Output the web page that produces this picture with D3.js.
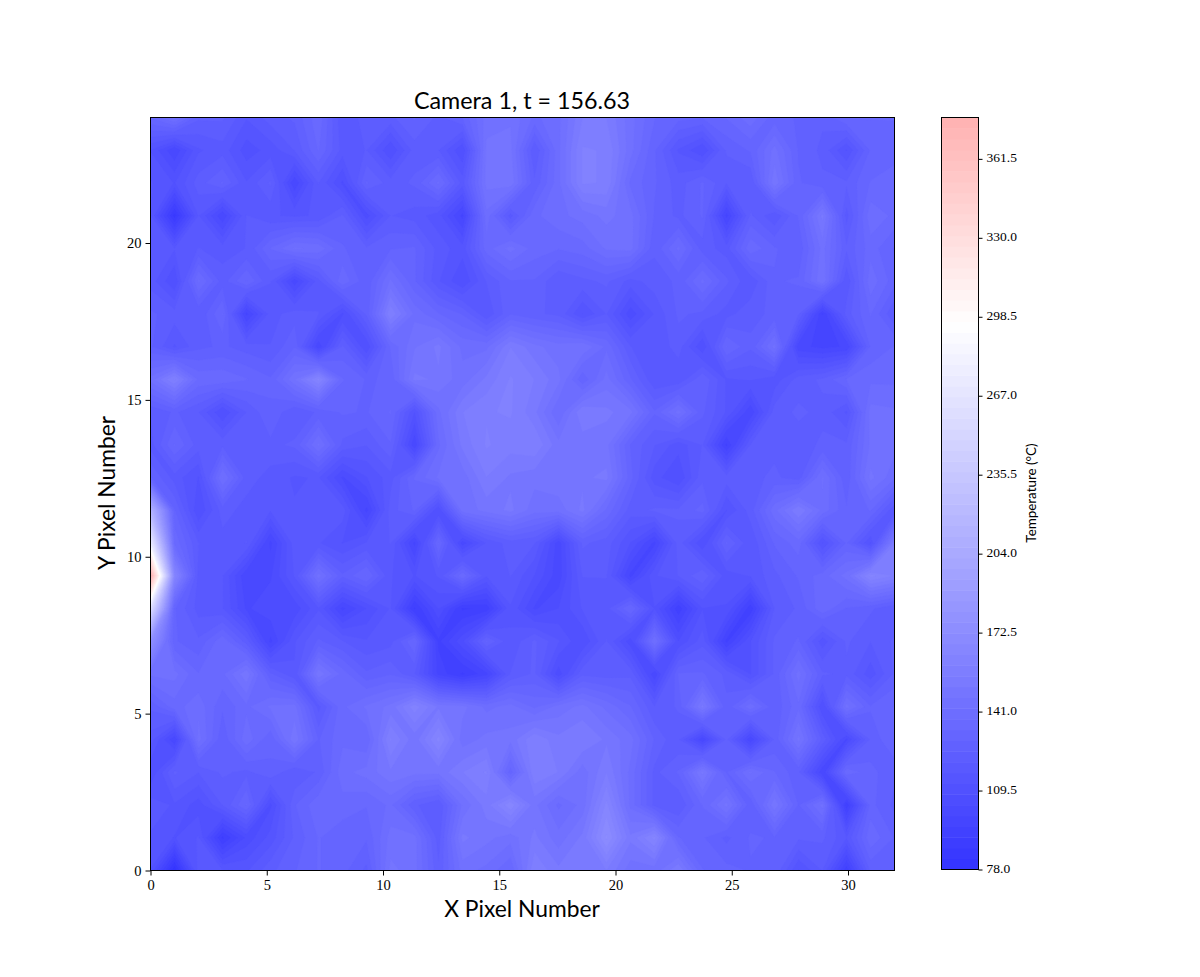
<!DOCTYPE html>
<html><head><meta charset="utf-8">
<script src="https://cdn.jsdelivr.net/npm/d3@7"></script>
<style>
html,body{margin:0;padding:0;background:#fff;}
svg{display:block;}
.tick text{font-family:"Liberation Serif",serif;fill:#000;}
</style></head><body>
<svg id="chart" width="1200" height="977"></svg>
<script>
// Temperature grid: rows run from Y = 0 upward, 32 columns per row.
const temperature = [
[112,78,119,117,116,124,129,134,131,124,148,144,126,144,141,134,159,152,155,155,144,144,155,134,131,129,129,112,121,92,126,126],
[116,112,117,90,105,114,126,134,131,130,144,144,123,152,148,144,152,144,152,173,152,165,134,130,124,130,129,126,126,117,137,129],
[119,116,110,121,134,107,129,137,136,134,139,126,121,143,153,167,148,137,144,165,141,124,121,134,148,126,150,129,144,92,131,124],
[108,126,121,126,124,129,121,126,141,144,150,148,148,155,160,131,159,155,144,155,141,124,130,152,129,143,134,126,100,137,131,126],
[119,100,144,126,141,130,150,129,137,134,160,148,165,144,148,148,159,152,155,150,144,129,121,100,126,100,126,148,124,103,126,134],
[126,136,141,130,137,143,144,119,137,143,148,162,150,148,141,144,137,144,148,141,134,121,126,152,126,141,126,137,108,144,130,134],
[143,144,134,137,150,126,117,150,136,126,129,121,98,90,98,121,126,105,124,123,124,100,130,130,124,112,126,144,126,124,114,126],
[175,130,126,137,123,98,116,126,121,117,119,134,94,107,130,117,126,117,108,121,105,143,108,119,94,112,126,130,114,126,121,126],
[260,130,119,117,103,107,105,116,98,108,117,90,108,90,92,116,103,108,117,119,134,112,92,112,112,92,121,126,137,129,126,121],
[378,165,119,117,100,103,117,144,126,134,117,112,117,137,117,121,112,101,121,121,98,116,121,129,114,117,124,130,136,144,165,159],
[275,137,121,119,121,98,119,117,112,117,121,98,134,101,117,123,121,101,126,123,112,98,123,108,130,117,130,136,112,130,112,155],
[215,130,108,123,119,117,117,119,119,98,123,130,108,144,148,152,144,144,152,137,123,126,126,131,112,123,141,155,141,130,134,117],
[130,119,112,143,123,119,116,117,103,112,119,134,143,144,155,150,148,150,150,152,131,114,108,124,123,124,126,123,143,126,148,139],
[119,134,123,124,121,124,126,143,124,121,129,100,137,152,160,157,159,148,148,148,129,121,114,121,94,121,124,123,126,126,143,144],
[121,126,121,108,121,129,121,126,130,129,134,112,141,155,159,160,152,138,155,152,148,130,144,126,116,100,123,126,124,116,144,143],
[144,160,137,137,134,130,146,165,134,129,130,152,150,144,152,160,155,148,130,144,130,117,117,129,116,117,114,123,126,134,137,137],
[126,116,124,126,123,121,129,100,126,108,134,146,152,141,141,155,148,144,146,137,121,117,123,108,134,126,144,101,98,100,130,134],
[126,123,121,134,98,119,123,121,107,126,159,141,134,129,117,129,126,124,112,121,105,117,126,124,119,124,126,126,95,123,134,121],
[119,108,139,123,134,121,101,119,137,126,143,130,117,108,121,129,129,121,124,126,119,123,126,139,126,117,129,130,146,117,141,131],
[119,117,121,119,121,134,143,141,130,126,129,130,119,114,136,144,136,134,136,143,144,126,139,123,119,137,130,126,144,126,136,129],
[117,85,117,100,121,117,116,117,126,106,121,119,114,98,141,119,137,141,144,148,144,129,124,130,98,126,117,130,152,119,141,137],
[117,112,123,130,117,126,100,121,107,130,123,126,139,119,148,150,126,141,160,159,137,130,123,130,121,121,150,130,126,126,134,137],
[112,100,116,119,110,114,121,134,119,121,108,123,121,108,148,148,121,141,160,159,144,130,116,108,126,130,144,129,124,112,130,131],
[134,144,126,126,117,123,126,137,117,123,124,130,124,130,144,146,137,141,155,155,144,134,131,130,134,141,131,129,126,134,134,134]
];
const xTickValues = [0,5,10,15,20,25,30];
const yTickValues = [0,5,10,15,20];
const colorbarTicks = [78,109.5,141,172.5,204,235.5,267,298.5,330,361.5];
const titleText = "Camera 1, t = 156.63";
const xLabelText = "X Pixel Number";
const yLabelText = "Y Pixel Number";
const colorbarLabel = "Temperature (°C)";
const tempMin = 78, tempMax = 378, tempCenter = 295, bandCount = 70;

const nx = temperature[0].length, ny = temperature.length;
const svg = d3.select("#chart");
const x = d3.scaleLinear().domain([0,32]).range([150.5,894.5]);
const y = d3.scaleLinear().domain([0,24]).range([870.5,117.5]);
const cy = d3.scaleLinear().domain([tempMin,tempMax]).range([869.5,117.5]);

const ramp = d3.scaleLinear().domain([tempMin,tempCenter,tempCenter+ (tempCenter-tempMin)])
  .range(["rgb(51,51,255)","rgb(255,255,255)","rgb(255,51,51)"]).clamp(true);

const levels = d3.range(bandCount).map(k => tempMin + k*(tempMax-tempMin)/bandCount);
const bandW = (tempMax-tempMin)/bandCount;
const flat = [];
for (let r=0;r<ny;r++) for (let c=0;c<nx;c++) flat.push(temperature[r][c]);
const contours = d3.contours().size([nx,ny]).smooth(true).thresholds(levels)(flat);

const proj = d3.geoTransform({point(px,py){
  this.stream.point(x((px-0.5)*32/(nx-1)), y((py-0.5)*24/(ny-1)));
}});
const path = d3.geoPath(proj);

svg.append("clipPath").attr("id","plot").append("rect")
  .attr("x",x(0)).attr("y",y(24)).attr("width",x(32)-x(0)).attr("height",y(0)-y(24));
svg.append("g").attr("clip-path","url(#plot)").selectAll("path").data(contours).join("path")
  .attr("d",path)
  .attr("fill",d=>ramp(d.value+bandW/2))
  .attr("stroke",d=>ramp(d.value+bandW/2)).attr("stroke-width",0.4);

svg.append("rect").attr("x",x(0)).attr("y",y(24)).attr("width",x(32)-x(0)).attr("height",y(0)-y(24))
  .attr("fill","none").attr("stroke","#000").attr("stroke-width",1);

const xAxis = svg.append("g").attr("transform",`translate(0,${y(0)})`)
  .call(d3.axisBottom(x).tickValues(xTickValues).tickSize(5).tickPadding(4).tickFormat(d3.format("d")));
const yAxis = svg.append("g").attr("transform",`translate(${x(0)},0)`)
  .call(d3.axisLeft(y).tickValues(yTickValues).tickSize(5).tickPadding(4).tickFormat(d3.format("d")));
[xAxis,yAxis].forEach(a=>{a.select(".domain").remove();a.selectAll("text").style("font-size","14.5px");a.selectAll("line").attr("stroke","#000");});

// colorbar
const barX0 = 941.5, barX1 = 978.5;
svg.append("g").selectAll("rect").data(levels).join("rect")
  .attr("x",barX0).attr("width",barX1-barX0)
  .attr("y",d=>cy(d+bandW)).attr("height",d=>cy(d)-cy(d+bandW)+0.5)
  .attr("fill",d=>ramp(d+bandW/2));
svg.append("rect").attr("x",barX0).attr("y",cy(tempMax)).attr("width",barX1-barX0).attr("height",cy(tempMin)-cy(tempMax))
  .attr("fill","none").attr("stroke","#000").attr("stroke-width",1);
const cAxis = svg.append("g").attr("transform",`translate(${barX1},0)`)
  .call(d3.axisRight(cy).tickValues(colorbarTicks).tickSize(4).tickPadding(4).tickFormat(d3.format(".1f")));
cAxis.select(".domain").remove();
cAxis.selectAll("text").style("font-size","13.5px").attr("dy","0.2em");
cAxis.selectAll("line").attr("stroke","#000");

const sans = '"Lato","Open Sans",sans-serif';
svg.append("text").attr("x",522).attr("y",109).attr("text-anchor","middle")
  .style("font-family",sans).style("font-size","23.3px").text(titleText);
svg.append("text").attr("x",522).attr("y",917).attr("text-anchor","middle")
  .style("font-family",sans).style("font-size","22.8px").text(xLabelText);
svg.append("text").attr("transform","translate(115,493) rotate(-90)").attr("text-anchor","middle")
  .style("font-family",sans).style("font-size","22.8px").text(yLabelText);
svg.append("text").attr("transform","translate(1036,493) rotate(-90)").attr("text-anchor","middle")
  .style("font-family",sans).style("font-size","13.4px").text(colorbarLabel);
</script>
</body></html>
